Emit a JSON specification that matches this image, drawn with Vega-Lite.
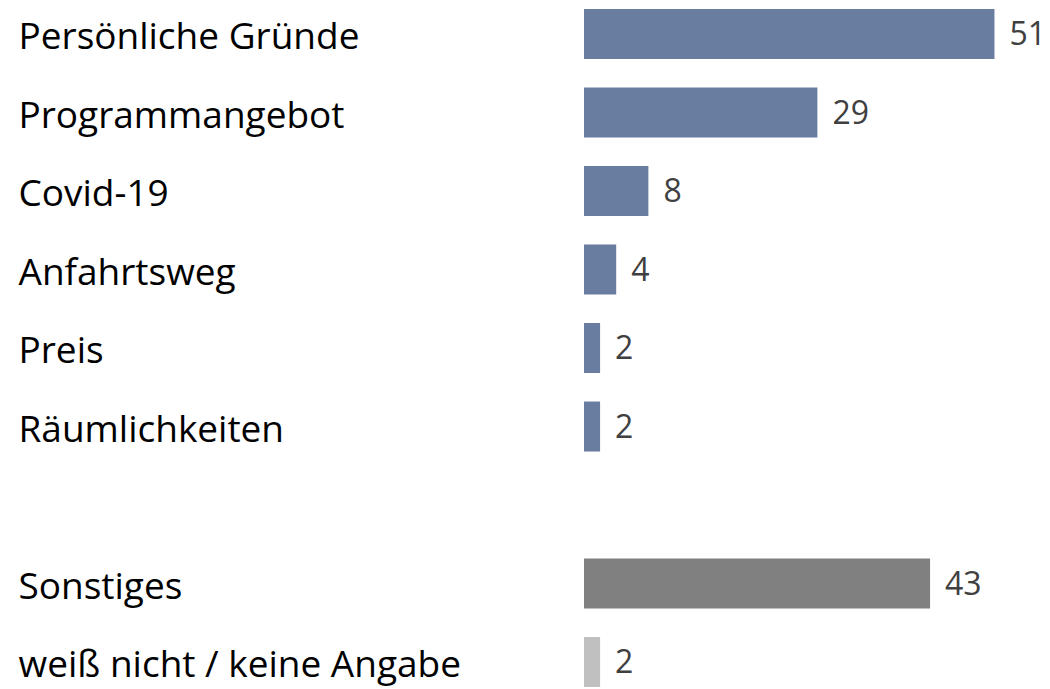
{
  "$schema": "https://vega.github.io/schema/vega-lite/v6.json",
  "autosize": "none",
  "width": 466,
  "height": {"step": 78.5},
  "padding": {"left": 584, "top": 0, "right": 0, "bottom": 0},
  "background": "white",
  "config": {"view": {"stroke": null}, "font": "Open Sans"},
  "data": {"values": [
    {"label": "Persönliche Gründe", "value": 51, "group": "main"},
    {"label": "Programmangebot", "value": 29, "group": "main"},
    {"label": "Covid-19", "value": 8, "group": "main"},
    {"label": "Anfahrtsweg", "value": 4, "group": "main"},
    {"label": "Preis", "value": 2, "group": "main"},
    {"label": "Räumlichkeiten", "value": 2, "group": "main"},
    {"label": "Sonstiges", "value": 43, "group": "other"},
    {"label": "weiß nicht / keine Angabe", "value": 2, "group": "dk"}
  ]},
  "encoding": {
    "y": {
      "field": "label", "type": "nominal",
      "scale": {
        "domain": ["Persönliche Gründe", "Programmangebot", "Covid-19", "Anfahrtsweg", "Preis", "Räumlichkeiten", " ", "Sonstiges", "weiß nicht / keine Angabe"],
        "paddingInner": 0.363, "paddingOuter": 0.115
      },
      "axis": {
        "title": null, "domain": false, "ticks": false, "grid": false,
        "labelAlign": "left", "labelPadding": 566, "labelFontSize": 37,
        "labelColor": "#000000", "labelFont": "Open Sans", "labelLimit": 600,
        "labelBaseline": "middle", "labelOffset": 4
      }
    },
    "x": {"field": "value", "type": "quantitative", "scale": {"domain": [0, 57.9], "nice": false}, "axis": null}
  },
  "layer": [
    {
      "mark": {"type": "bar"},
      "encoding": {
        "color": {"field": "group", "type": "nominal",
          "scale": {"domain": ["main", "other", "dk"], "range": ["#687d9f", "#808080", "#c0c0c0"]},
          "legend": null}
      }
    },
    {
      "mark": {"type": "text", "align": "left", "baseline": "middle", "dx": 15, "dy": 1, "fontSize": 32, "color": "#404040", "font": "Open Sans"},
      "encoding": {"text": {"field": "value", "type": "quantitative"}}
    }
  ]
}
